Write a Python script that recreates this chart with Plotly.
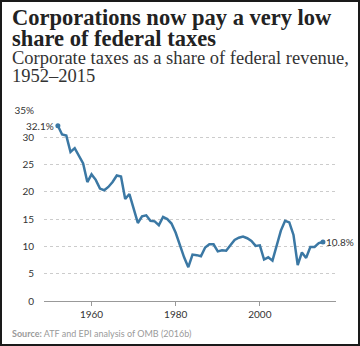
import plotly.graph_objects as go

years = list(range(1952, 2016))
share = [32.1, 30.5, 30.3, 27.3, 28.0, 26.5, 25.2, 21.8, 23.2, 22.2,
         20.6, 20.3, 20.9, 21.8, 23.0, 22.8, 18.7, 19.6, 17.0, 14.3,
         15.5, 15.7, 14.7, 14.6, 13.9, 15.4, 15.0, 14.2, 12.5, 10.2,
         8.0, 6.2, 8.5, 8.4, 8.2, 9.8, 10.4, 10.4, 9.1, 9.3,
         9.2, 10.2, 11.2, 11.6, 11.8, 11.5, 11.0, 10.1, 10.2, 7.6,
         8.0, 7.4, 10.1, 12.9, 14.7, 14.4, 12.1, 6.6, 8.9, 7.9,
         9.9, 9.9, 10.6, 10.8]
y_ticks = [0, 5, 10, 15, 20, 25, 30, 35]
y_ticktext = ["0", "5", "10", "15", "20", "25", "30", "35%"]
x_ticks = [1960, 1980, 2000]

title_lines = ["Corporations now pay a very low", "share of federal taxes"]
subtitle_lines = ["Corporate taxes as a share of federal revenue,", "1952–2015"]
source_bold = "Source:"
source_text = "ATF and EPI analysis of OMB (2016b)"

LINE = "#3b78a4"
L, R, T, B = 44, 24, 110, 45
W, H = 360, 346
pw, ph = W - L - R, H - T - B

def px(x):
    return (x - L) / pw

def py(y):
    return (H - B - y) / ph

fig = go.Figure()
fig.add_trace(go.Scatter(x=years, y=share, mode="lines",
                         line=dict(color=LINE, width=2.5, shape="linear"),
                         hoverinfo="skip", showlegend=False))
fig.add_trace(go.Scatter(x=[years[0], years[-1]], y=[share[0], share[-1]], mode="markers",
                         marker=dict(color=LINE, size=5),
                         hoverinfo="skip", showlegend=False))

annos = []
for i, t in enumerate(title_lines):
    annos.append(dict(text="<b>" + t + "</b>", x=px(10), y=py(18 + 20 * i), xref="paper", yref="paper",
                      xanchor="left", yanchor="middle", showarrow=False, align="left",
                      font=dict(family="Liberation Serif", size=22.5, color="#222222")))
for i, t in enumerate(subtitle_lines):
    annos.append(dict(text=t, x=px(10), y=py(58 + 18 * i), xref="paper", yref="paper",
                      xanchor="left", yanchor="middle", showarrow=False, align="left",
                      font=dict(family="Liberation Serif", size=18.5, color="#333333")))
annos += [
    dict(text=f"<b>{source_bold}</b> {source_text}", x=px(10), y=py(333), xref="paper", yref="paper",
         xanchor="left", yanchor="middle", showarrow=False, align="left",
         font=dict(family="Lato", size=9, color="#9a9a9a")),
    dict(text=f"{share[0]}%", x=years[0], y=share[0], xref="x", yref="y",
         xanchor="right", yanchor="middle", xshift=-2, showarrow=False,
         font=dict(family="Lato", size=10, color="#333333")),
    dict(text=f"{share[-1]}%", x=years[-1], y=share[-1], xref="x", yref="y",
         xanchor="left", yanchor="middle", xshift=1, showarrow=False,
         font=dict(family="Lato", size=10, color="#333333")),
]

fig.update_layout(
    width=W, height=H,
    margin=dict(l=L, r=R, t=T, b=B),
    paper_bgcolor="white", plot_bgcolor="white",
    annotations=annos,
    shapes=[dict(type="rect", xref="paper", yref="paper",
                 x0=px(1), x1=px(W - 1), y0=py(1), y1=py(H - 1),
                 line=dict(color="#1a1a1a", width=2), fillcolor="rgba(0,0,0,0)", layer="above")],
    xaxis=dict(range=[1948.7, 2018.1], tickvals=x_ticks, showgrid=False, zeroline=False,
               showline=False, ticks="outside", ticklen=4, tickcolor="#999999",
               tickfont=dict(family="Lato", size=10, color="#333333"), fixedrange=True),
    yaxis=dict(range=[0, 35], tickvals=y_ticks, ticktext=y_ticktext,
               showgrid=True, gridcolor="#cccccc", griddash="dot", gridwidth=1,
               zeroline=True, zerolinecolor="#999999", zerolinewidth=1,
               showline=False, ticks="", ticklabelstandoff=9,
               tickfont=dict(family="Lato", size=10, color="#333333"), fixedrange=True),
)

fig.write_html("out.html", config={"displayModeBar": False})
